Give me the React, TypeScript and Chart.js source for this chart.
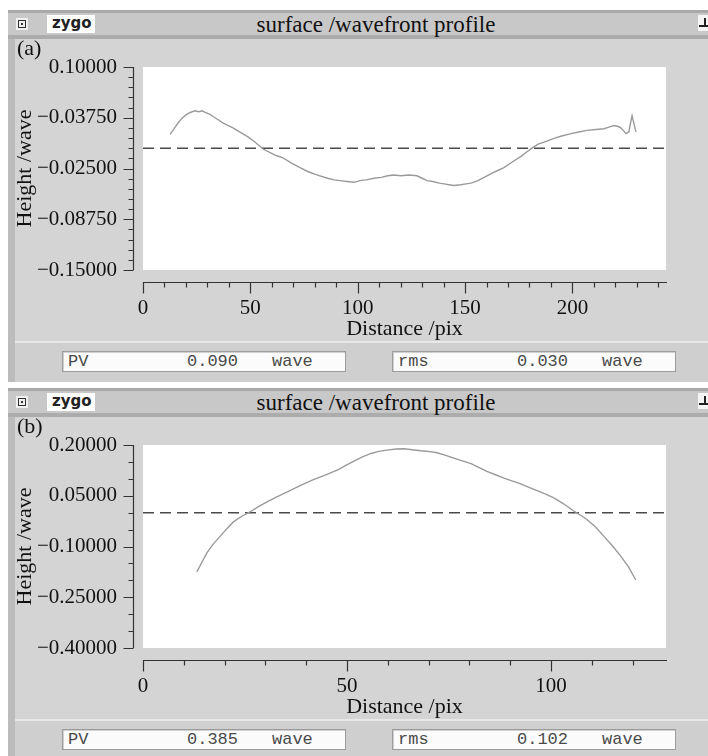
import React, { useEffect, useRef } from "react";
import { Chart, registerables } from "chart.js";

Chart.register(...registerables);

// ---------- data ----------
const aDistance = [
  12.6, 14.5, 16.3, 18.2, 20.0, 22.0, 24.2, 26.0, 27.5, 29.0, 31.0, 32.6, 35.0, 37.3, 39.5, 41.9, 45.0, 48.9,
  52.0, 55.9, 59.0, 62.0, 65.2, 69.0, 73.1, 77.0, 80.0, 82.4, 86.0, 89.0, 91.8, 95.0, 98.3, 101.0, 104.0,
  107.6, 111.0, 114.0, 116.9, 120.0, 124.0, 127.6, 130.0, 132.3, 135.0, 138.0, 140.2, 142.5, 144.9, 148.0,
  150.5, 152.8, 156.0, 160.2, 164.0, 168.1, 172.0, 176.1, 179.0, 181.2, 184.0, 187.5, 191.4, 195.0, 199.3,
  203.0, 206.8, 211.0, 214.7, 217.0, 219.4, 221.0, 222.6, 224.0, 224.9, 226.3, 227.0, 227.8, 228.7, 229.6,
];
const aHeight = [
  0.017, 0.024, 0.031, 0.037, 0.041, 0.044, 0.046, 0.045, 0.046, 0.044, 0.042, 0.039, 0.035, 0.031, 0.028,
  0.025, 0.02, 0.014, 0.008, -0.001, -0.005, -0.009, -0.012, -0.018, -0.024, -0.029, -0.032, -0.034, -0.037,
  -0.039, -0.04, -0.041, -0.042, -0.04, -0.039, -0.037, -0.036, -0.034, -0.033, -0.034, -0.033, -0.034,
  -0.037, -0.04, -0.041, -0.043, -0.044, -0.045, -0.046, -0.045, -0.044, -0.043, -0.04, -0.034, -0.029,
  -0.024, -0.017, -0.01, -0.004, 0.0, 0.005, 0.008, 0.012, 0.015, 0.018, 0.02, 0.022, 0.023, 0.024, 0.026,
  0.028, 0.027, 0.025, 0.021, 0.018, 0.02, 0.03, 0.04, 0.03, 0.02,
];

const bDistance = [
  13.2, 14.5, 15.7, 17.2, 18.9, 20.5, 22.1, 24.0, 26.2, 28.3, 30.4, 32.8, 35.5, 38.5, 41.5, 45.1, 48.0, 49.5,
  51.7, 53.8, 55.9, 57.8, 59.8, 62.0, 64.0, 66.0, 68.1, 70.0, 72.1, 74.0, 76.2, 78.3, 80.4, 82.4, 84.3, 86.4,
  88.5, 90.6, 92.6, 94.6, 96.6, 98.7, 100.7, 103.0, 105.6, 107.2, 108.8, 111.0, 113.0, 115.0, 117.2, 119.0,
  120.8,
];
const bHeight = [
  -0.175, -0.145, -0.118, -0.093, -0.07, -0.048, -0.028, -0.012, 0.002, 0.018, 0.032, 0.047, 0.062, 0.08,
  0.096, 0.113, 0.128, 0.138, 0.152, 0.165, 0.175, 0.181, 0.185, 0.188, 0.189, 0.186, 0.183, 0.181, 0.177,
  0.17, 0.161, 0.153, 0.145, 0.133, 0.122, 0.112, 0.102, 0.093, 0.085, 0.075, 0.065, 0.055, 0.044, 0.027,
  0.005, -0.007, -0.02, -0.043, -0.07, -0.097, -0.13, -0.16, -0.199,
];

const aXTicks = [0, 50, 100, 150, 200];
const bXTicks = [0, 50, 100];
const aYTicks = [0.1, 0.0375, -0.025, -0.0875, -0.15];
const aYTickLabels = ["0.10000", "\u22120.03750", "\u22120.02500", "\u22120.08750", "\u22120.15000"];
const bYTicks = [0.2, 0.05, -0.1, -0.25, -0.4];
const bYTickLabels = ["0.20000", "0.05000", "\u22120.10000", "\u22120.25000", "\u22120.40000"];
const aXRange = [0, 243.6];
const bXRange = [0, 128.2];
const aYRange = [-0.15, 0.1];
const bYRange = [-0.4, 0.2];
const aXMinorStep = 10;
const bXMinorStep = 10;
const aYMinorStep = 0.0125;
const bYMinorStep = 0.05;
const referenceLevel = 0;

const statNames = ["PV", "rms"];
const aStatValues = ["0.090", "0.030"];
const bStatValues = ["0.385", "0.102"];
const statUnit = "wave";
const windowTitle = "surface /wavefront profile";
const xTitle = "Distance /pix";
const yTitle = "Height /wave";

// ---------- styling ----------
const SERIF = '"Liberation Serif", "Times New Roman", serif';
const MONO = '"Liberation Mono", "Courier New", monospace';
const SANS = '"DejaVu Sans", sans-serif';

const axisFramePlugin = {
  id: "axisFrame",
  beforeDraw(chart: any) {
    const { ctx, chartArea } = chart;
    ctx.save();
    ctx.fillStyle = "#ffffff";
    ctx.fillRect(chartArea.left, chartArea.top, chartArea.right - chartArea.left, chartArea.bottom - chartArea.top);
    ctx.restore();
  },
  afterDraw(chart: any, _args: any, opts: any) {
    const { ctx, chartArea } = chart;
    const xs = chart.scales.x;
    const ys = chart.scales.y;
    ctx.save();
    ctx.strokeStyle = opts.color;
    ctx.lineWidth = 1.2;
    ctx.beginPath();
    // y axis
    const ax = Math.round(chartArea.left - opts.yGap) + 0.5;
    const yTop = ys.getPixelForValue(ys.max);
    const yBot = ys.getPixelForValue(ys.min);
    ctx.moveTo(ax, yTop);
    ctx.lineTo(ax, yBot);
    const nY = Math.round((ys.max - ys.min) / opts.yMinor);
    for (let i = 0; i <= nY; i++) {
      const v = ys.min + i * opts.yMinor;
      const p = Math.round(ys.getPixelForValue(v)) + 0.5;
      const major = opts.yMajor.some((t: number) => Math.abs(t - v) < opts.yMinor * 0.01);
      ctx.moveTo(ax, p);
      ctx.lineTo(ax - (major ? 10 : 5), p);
    }
    // x axis
    const ay = Math.round(chartArea.bottom + opts.xGap) + 0.5;
    const xL = xs.getPixelForValue(xs.min);
    const xR = xs.getPixelForValue(xs.max);
    ctx.moveTo(xL, ay);
    ctx.lineTo(xR + 1, ay);
    const nX = Math.floor((xs.max - xs.min) / opts.xMinor + 1e-6);
    for (let i = 0; i <= nX; i++) {
      const v = xs.min + i * opts.xMinor;
      const p = Math.round(xs.getPixelForValue(v)) + 0.5;
      const major = opts.xMajor.some((t: number) => Math.abs(t - v) < 1e-6);
      ctx.moveTo(p, ay);
      ctx.lineTo(p, ay + (major ? 11 : 5));
    }
    ctx.stroke();
    ctx.restore();
  },
};

type PanelCfg = {
  distance: number[];
  height: number[];
  xTicks: number[];
  yTicks: number[];
  yLabels: string[];
  xRange: number[];
  yRange: number[];
  xMinor: number;
  yMinor: number;
};

function makeChart(canvas: HTMLCanvasElement, cfg: PanelCfg) {
  return new Chart(canvas, {
    type: "line",
    data: {
      datasets: [
        {
          data: cfg.distance.map((x, i) => ({ x, y: cfg.height[i] })),
          borderColor: "#9a9a9a",
          borderWidth: 1.4,
          pointRadius: 0,
          tension: 0,
          fill: false,
        },
        {
          data: [
            { x: cfg.xRange[0], y: referenceLevel },
            { x: cfg.xRange[1], y: referenceLevel },
          ],
          borderColor: "#4a4a4a",
          borderWidth: 1.5,
          borderDash: [11, 6],
          pointRadius: 0,
          fill: false,
        },
      ],
    },
    options: {
      animation: false,
      responsive: false,
      maintainAspectRatio: false,
      events: [],
      layout: { padding: { left: 0, right: 42, top: 25, bottom: 0 } },
      plugins: {
        legend: { display: false },
        tooltip: { enabled: false },
        axisFrame: {
          color: "#333333",
          yGap: 10,
          xGap: 12,
          xMinor: cfg.xMinor,
          yMinor: cfg.yMinor,
          xMajor: cfg.xTicks,
          yMajor: cfg.yTicks,
        },
      } as any,
      scales: {
        x: {
          type: "linear",
          min: cfg.xRange[0],
          max: cfg.xRange[1],
          grid: { display: false, drawTicks: false, tickLength: 0 },
          border: { display: false },
          afterBuildTicks: (s: any) => {
            s.ticks = cfg.xTicks.map((v) => ({ value: v }));
          },
          afterFit: (s: any) => {
            s.height = 72;
            s.paddingLeft = 0;
            s.paddingRight = 0;
          },
          ticks: {
            autoSkip: false,
            maxRotation: 0,
            padding: 26,
            color: "#111111",
            font: { family: SERIF, size: 21 },
            callback: (v: any) => String(v),
          },
          title: {
            display: true,
            text: xTitle,
            color: "#111111",
            font: { family: SERIF, size: 22 },
            padding: { top: 0, bottom: 0 },
          },
        },
        y: {
          type: "linear",
          min: cfg.yRange[0],
          max: cfg.yRange[1],
          grid: { display: false, drawTicks: false, tickLength: 0 },
          border: { display: false },
          afterBuildTicks: (s: any) => {
            s.ticks = [...cfg.yTicks].sort((p, q) => p - q).map((v) => ({ value: v }));
          },
          afterFit: (s: any) => {
            s.width = 143;
            s.paddingTop = 0;
            s.paddingBottom = 0;
          },
          ticks: {
            autoSkip: false,
            padding: 26,
            color: "#111111",
            font: { family: SERIF, size: 21 },
            callback: (v: any) => {
              const i = cfg.yTicks.findIndex((t) => Math.abs(t - Number(v)) < 1e-9);
              return i >= 0 ? cfg.yLabels[i] : "";
            },
          },
          title: {
            display: true,
            text: yTitle,
            color: "#111111",
            font: { family: SERIF, size: 22 },
            padding: { top: 12, bottom: 0 },
          },
        },
      },
    },
    plugins: [axisFramePlugin as any],
  });
}

const abs = (s: React.CSSProperties): React.CSSProperties => ({ position: "absolute", ...s });

function StatBox({ left, width, top, name, value }: { left: number; width: number; top: number; name: string; value: string }) {
  const txt: React.CSSProperties = {
    position: "absolute",
    top: 0,
    lineHeight: "19px",
    fontFamily: MONO,
    fontSize: 17,
    color: "#4a4a4a",
    whiteSpace: "pre",
  };
  return (
    <div
      style={abs({
        left,
        top,
        width,
        height: 19,
        background: "#fbfbfb",
        border: "1px solid #9c9c9c",
        boxShadow: "inset 1px 1px 0 #d0d0d0",
        zIndex: 3,
      })}
    >
      <span style={{ ...txt, left: 5 }}>{name}</span>
      <span style={{ ...txt, left: 124 }}>{value}</span>
      <span style={{ ...txt, left: 209 }}>{statUnit}</span>
    </div>
  );
}

function Panel({
  top,
  height,
  letter,
  stats,
  canvasRef,
}: {
  top: number;
  height: number;
  letter: string;
  stats: string[];
  canvasRef: React.RefObject<HTMLCanvasElement | null>;
}) {
  const T = top;
  return (
    <>
      <div style={abs({ left: 8, top: T, width: 710, height, background: "#d4d4d4", zIndex: 0 })} />
      <div style={abs({ left: 8, top: T + 29, width: 7, height: height - 29, background: "#bcbcbc", zIndex: 1 })} />
      <div style={abs({ left: 15, top: T + 331, width: 704, height: 2, background: "#e8e8e8", zIndex: 1 })} />
      <div style={abs({ left: 15, top: T + 333, width: 704, height: height - 333, background: "#cfcfcf", zIndex: 1 })} />
      {/* title bar */}
      <div
        style={abs({
          left: 8,
          top: T,
          width: 710,
          height: 22,
          background: "#c8c8c8",
          borderTop: "3px solid #a9a9a9",
          borderBottom: "4px solid #acacac",
          zIndex: 1,
        })}
      />
      {/* close icon */}
      <div style={abs({ left: 16, top: T + 8, width: 12, height: 12, background: "#efefef", zIndex: 2 })}>
        <div style={abs({ left: 2, top: 2, width: 6, height: 6, border: "1px solid #333", boxSizing: "content-box" })}>
          <div style={abs({ left: 2, top: 2, width: 2, height: 2, background: "#333" })} />
        </div>
      </div>
      {/* zygo logo */}
      <div
        style={abs({
          left: 47,
          top: T + 5,
          width: 48,
          height: 18,
          background: "#ffffff",
          zIndex: 2,
          fontFamily: SANS,
          fontWeight: "bold",
          fontSize: 15,
          lineHeight: "16px",
          color: "#222",
          paddingLeft: 5,
          boxSizing: "border-box",
        })}
      >
        zygo
      </div>
      {/* right icon */}
      <div style={abs({ left: 698, top: T + 5, width: 12, height: 16, background: "#f4f4f4", zIndex: 2 })}>
        <div style={abs({ left: 1, top: 10, width: 9, height: 2, background: "#222" })} />
        <div style={abs({ left: 6, top: 3, width: 2, height: 8, background: "#222" })} />
      </div>
      <div
        style={abs({
          left: 0,
          top: T + 4,
          width: 752,
          textAlign: "center",
          fontFamily: SERIF,
          fontSize: 23,
          lineHeight: "22px",
          color: "#111",
          zIndex: 2,
        })}
      >
        {windowTitle}
      </div>
      <div
        style={abs({
          left: 17,
          top: T + 27,
          fontFamily: SERIF,
          fontSize: 22,
          lineHeight: "22px",
          color: "#111",
          zIndex: 4,
        })}
      >
        {letter}
      </div>
      <canvas
        ref={canvasRef}
        width={708}
        height={300}
        style={abs({ left: 0, top: T + 32, width: 708, height: 300, zIndex: 2 })}
      />
      <StatBox left={62} width={282} top={T + 341} name={statNames[0]} value={stats[0]} />
      <StatBox left={392} width={282} top={T + 341} name={statNames[1]} value={stats[1]} />
    </>
  );
}

export default function App() {
  const refA = useRef<HTMLCanvasElement | null>(null);
  const refB = useRef<HTMLCanvasElement | null>(null);

  useEffect(() => {
    const charts: Chart[] = [];
    if (refA.current) {
      charts.push(
        makeChart(refA.current, {
          distance: aDistance,
          height: aHeight,
          xTicks: aXTicks,
          yTicks: aYTicks,
          yLabels: aYTickLabels,
          xRange: aXRange,
          yRange: aYRange,
          xMinor: aXMinorStep,
          yMinor: aYMinorStep,
        })
      );
    }
    if (refB.current) {
      charts.push(
        makeChart(refB.current, {
          distance: bDistance,
          height: bHeight,
          xTicks: bXTicks,
          yTicks: bYTicks,
          yLabels: bYTickLabels,
          xRange: bXRange,
          yRange: bYRange,
          xMinor: bXMinorStep,
          yMinor: bYMinorStep,
        })
      );
    }
    return () => charts.forEach((c) => c.destroy());
  }, []);

  return (
    <div style={abs({ left: 0, top: 0, width: 708, height: 756, overflow: "hidden", background: "#ffffff" })}>
      <Panel top={10} height={372} letter="(a)" stats={aStatValues} canvasRef={refA} />
      <Panel top={388} height={380} letter="(b)" stats={bStatValues} canvasRef={refB} />
    </div>
  );
}
